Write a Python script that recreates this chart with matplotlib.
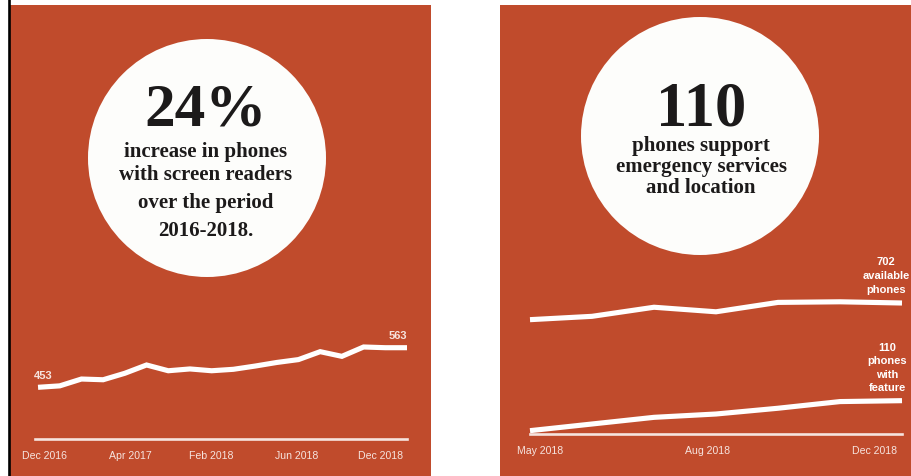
import numpy as np
import matplotlib
matplotlib.use('Agg')
import matplotlib.pyplot as plt
from matplotlib.patches import Rectangle, Circle
from matplotlib import font_manager

#--data
screen_reader_phones = [453, 457, 476, 474, 492, 515, 499, 504, 499, 503, 512, 522, 530, 552, 539, 565, 563, 563]
left_tick_labels     = ['Dec 2016', 'Apr 2017', 'Feb 2018', 'Jun 2018', 'Dec 2018']

available_phones     = [647, 658, 688, 673, 704, 706, 702]
phones_with_feature  = [11, 33, 55, 66, 85, 107, 110]
right_tick_labels    = ['May 2018', 'Aug 2018', 'Dec 2018']

left_headline  = '24%'
left_caption   = ['increase in phones', 'with screen readers', 'over the period', '2016-2018.']
right_headline = '110'
right_caption  = ['phones support', 'emergency services', 'and location']

#--style
W, H = 911, 477
ORANGE = '#C04B2C'
PALE   = '#f6e4df'
INK    = '#1c1a1a'

names = set(f.name for f in font_manager.fontManager.ttflist)
if 'Liberation Sans Narrow' in names:
    SANS, tick_fs, ann_fs, ann_ls = 'Liberation Sans Narrow', 9.6, 9.6, 1.25
else:
    SANS, tick_fs, ann_fs, ann_ls = 'Liberation Sans', 7.6, 8.0, 1.45
SERIF = 'Liberation Serif'

def fbox(x0, y0, x1, y1):
    #--pixel box (top-left origin) -> figure fraction
    return [x0/W, 1-y1/H, (x1-x0)/W, (y1-y0)/H]

fig = plt.figure(figsize=(W/100., H/100.), dpi=100)
fig.patch.set_facecolor('white')

bg = fig.add_axes([0, 0, 1, 1])
bg.set_xlim(0, W)
bg.set_ylim(H, 0)
bg.axis('off')

bg.add_patch(Rectangle((10, 6), 421, H-6, color=ORANGE, lw=0))
bg.add_patch(Rectangle((500, 6), W-500, H-6, color=ORANGE, lw=0))
bg.plot([8.6, 8.6], [0, H], color='black', lw=1.9)

bg.add_patch(Circle((207, 159), 119, color='#fdfdfb', lw=0))
bg.add_patch(Circle((700, 137), 119, color='#fdfdfb', lw=0))

#--circle texts
bg.text(206, 126, left_headline, ha='center', va='baseline', family=SERIF, weight='bold', size=44, color=INK)
for txt, yb in zip(left_caption, [157, 180, 208, 236]):
    bg.text(206, yb, txt, ha='center', va='baseline', family=SERIF, weight='bold', size=15, color=INK)

bg.text(701, 125, right_headline, ha='center', va='baseline', family=SERIF, weight='bold', size=45, color=INK)
for txt, yb in zip(right_caption, [151, 172, 193]):
    bg.text(701, yb, txt, ha='center', va='baseline', family=SERIF, weight='bold', size=15, color=INK)

def style_axis(ax):
    ax.patch.set_visible(False)
    for s in ['top', 'left', 'right']:
        ax.spines[s].set_visible(False)
    ax.spines['bottom'].set_color(PALE)
    ax.spines['bottom'].set_linewidth(1.9)
    ax.set_yticks([])
    ax.tick_params(axis='x', length=0, pad=8, labelsize=tick_fs, labelcolor=PALE)
    for lab in ax.get_xticklabels():
        lab.set_family(SANS)

#--left chart
axL = fig.add_axes(fbox(35, 300, 407, 440))
xl = np.arange(len(screen_reader_phones))
axL.plot(xl, screen_reader_phones, color='white', lw=3.7, solid_joinstyle='miter', solid_capstyle='butt', clip_on=False)
axL.set_xlim(-0.14, xl[-1])
axL.set_ylim(309.4, 698.3)
axL.set_xticks([0.32, 4.24, 8.0, 11.9, 15.8], left_tick_labels)
style_axis(axL)
axL.annotate('%d' % screen_reader_phones[0], (xl[0], screen_reader_phones[0]), xytext=(3.6, 6.5), textcoords='offset points',
             ha='center', va='baseline', family=SANS, weight='bold', size=ann_fs, color=PALE)
axL.annotate('%d' % screen_reader_phones[-1], (xl[-1], screen_reader_phones[-1]), xytext=(-6.5, 7), textcoords='offset points',
             ha='center', va='baseline', family=SANS, weight='bold', size=ann_fs, color=PALE)

#--right chart (two series, each on its own scale)
axR = fig.add_axes(fbox(530, 250, 902, 435))
xr = np.arange(len(available_phones))
axR.plot(xr, phones_with_feature, color='white', lw=3.7, solid_joinstyle='miter', solid_capstyle='butt', clip_on=False)
axR.set_xlim(0, xr[-1])
axR.set_ylim(0, 610.5)
axR.set_xticks([0.16, 2.87, 5.56], right_tick_labels)
style_axis(axR)

axR2 = axR.twinx()
axR2.plot(xr, available_phones, color='white', lw=3.7, solid_joinstyle='miter', solid_capstyle='butt', clip_on=False)
axR2.set_ylim(269.7, 880.2)
axR2.axis('off')

axR2.annotate('%d\navailable\nphones' % available_phones[-1], (xr[-1], available_phones[-1]), xytext=(-11.5, 33.5),
              textcoords='offset points', ha='center', va='top', multialignment='center', linespacing=ann_ls,
              family=SANS, weight='bold', size=ann_fs, color='white')
axR.annotate('%d\nphones\nwith\nfeature' % phones_with_feature[-1], (xr[-1], phones_with_feature[-1]), xytext=(-10.5, 42.5),
             textcoords='offset points', ha='center', va='top', multialignment='center', linespacing=ann_ls,
             family=SANS, weight='bold', size=ann_fs, color='white')

fig.savefig('out.png', dpi=100)
